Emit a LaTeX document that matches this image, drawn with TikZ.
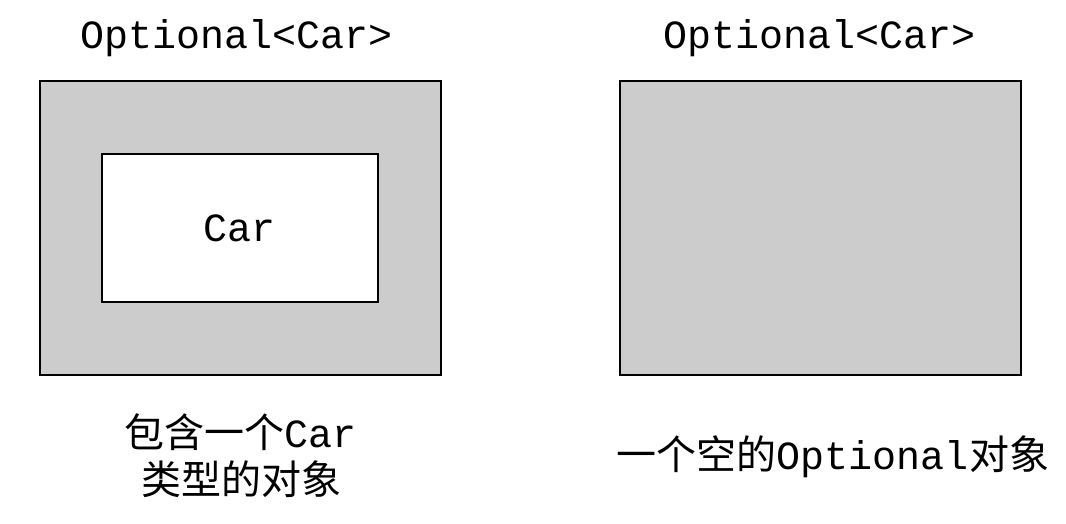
\documentclass[tikz,border=0pt]{standalone}
\usepackage{fontspec}
\setmonofont{Liberation Mono}
\newfontfamily\cjk{Noto Sans CJK SC}
\definecolor{boxgray}{HTML}{CCCCCC}
\tikzset{
  label text/.style={font=\fontsize{40}{47}\selectfont\ttfamily, inner sep=0pt},
  note text/.style={font=\fontsize{40}{47}\selectfont\cjk, inner sep=0pt, align=center},
}
\begin{document}
\begin{tikzpicture}[x=1pt, y=-1pt, line width=2pt]
\useasboundingbox (0,0) rectangle (1066,523);
% Titles
\node[label text] (titleL) at (237,38) {Optional<Car>};
\node[label text] (titleR) at (820,38) {Optional<Car>};

% Boxes
\filldraw[fill=boxgray] (40,81) rectangle (441,375);
\filldraw[fill=white] (102,154) rectangle (378,302);
\filldraw[fill=boxgray] (620,81) rectangle (1021,375);
\node[label text] (car) at (240,228) {Car};

% Notes
\node[note text] (noteL) at (241,456) {包含一个\texttt{Car}\\类型的对象};
\node[note text] (noteR) at (833,457) {一个空的\texttt{Optional}对象};
\end{tikzpicture}
\end{document}
